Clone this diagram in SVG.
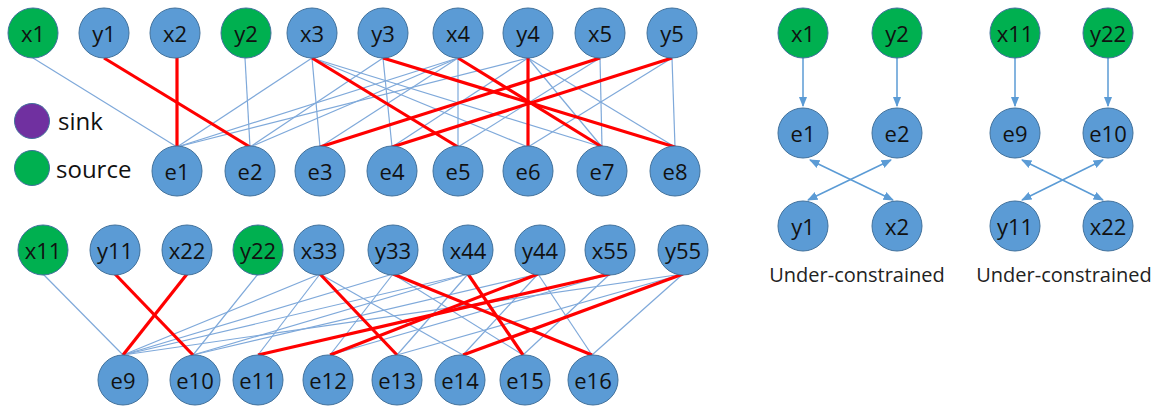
<svg xmlns="http://www.w3.org/2000/svg" width="1170" height="407" viewBox="0 0 1170 407">
<defs>
<style>
.n{fill:#5B9BD5;stroke:#41719C;stroke-width:1}
.s{fill:#00B050;stroke:#41719C;stroke-width:1}
.k{fill:#7030A0;stroke:#41719C;stroke-width:1}
.t{font-family:"Open Sans","Liberation Sans",sans-serif;font-size:22px;fill:#111;text-anchor:middle;dominant-baseline:central}
.lg{font-family:"Open Sans","Liberation Sans",sans-serif;font-size:24px;fill:#111}
.cap{font-family:"Open Sans","Liberation Sans",sans-serif;font-size:20px;fill:#222;text-anchor:middle}
.b{stroke:#7FA9DA;stroke-width:1.2;fill:none}
.r{stroke:#FF0000;stroke-width:3.2;fill:none}
.a{stroke:#5B9BD5;stroke-width:1.5;fill:none}
</style>
<marker id="ah" viewBox="0 0 10 10" refX="9" refY="5" markerWidth="7" markerHeight="7" orient="auto-start-reverse"><path d="M0,1 L10,5 L0,9 Z" fill="#5B9BD5"/></marker>
</defs>

<g id="connectors">
<!-- top graph blue -->
<line class="b" x1="33" y1="58" x2="177" y2="147"/>
<line class="b" x1="312" y1="58" x2="177" y2="147"/>
<line class="b" x1="458" y1="58" x2="177" y2="147"/>
<line class="b" x1="528" y1="58" x2="177" y2="147"/>
<line class="b" x1="245" y1="58" x2="250" y2="147"/>
<line class="b" x1="383" y1="58" x2="250" y2="147"/>
<line class="b" x1="458" y1="58" x2="250" y2="147"/>
<line class="b" x1="312" y1="58" x2="320" y2="147"/>
<line class="b" x1="458" y1="58" x2="320" y2="147"/>
<line class="b" x1="383" y1="58" x2="392" y2="147"/>
<line class="b" x1="528" y1="58" x2="392" y2="147"/>
<line class="b" x1="458" y1="58" x2="458" y2="147"/>
<line class="b" x1="600" y1="58" x2="458" y2="147"/>
<line class="b" x1="312" y1="58" x2="528" y2="147"/>
<line class="b" x1="672" y1="58" x2="528" y2="147"/>
<line class="b" x1="600" y1="58" x2="602" y2="147"/>
<line class="b" x1="528" y1="58" x2="602" y2="147"/>
<line class="b" x1="312" y1="58" x2="602" y2="147"/>
<line class="b" x1="672" y1="58" x2="675" y2="147"/>
<line class="b" x1="528" y1="58" x2="675" y2="147"/>
<!-- top graph red -->
<line class="r" x1="104" y1="58" x2="250" y2="147"/>
<line class="r" x1="177" y1="58" x2="177" y2="147"/>
<line class="r" x1="312" y1="58" x2="458" y2="147"/>
<line class="r" x1="383" y1="58" x2="675" y2="147"/>
<line class="r" x1="458" y1="58" x2="602" y2="147"/>
<line class="r" x1="528" y1="58" x2="528" y2="147"/>
<line class="r" x1="600" y1="58" x2="320" y2="147"/>
<line class="r" x1="672" y1="58" x2="392" y2="147"/>
<!-- bottom graph blue -->
<line class="b" x1="43" y1="274" x2="123" y2="355"/>
<line class="b" x1="258" y1="274" x2="193" y2="355"/>
<line class="b" x1="320" y1="274" x2="123" y2="355"/>
<line class="b" x1="320" y1="274" x2="258" y2="355"/>
<line class="b" x1="320" y1="274" x2="463" y2="355"/>
<line class="b" x1="393" y1="274" x2="123" y2="355"/>
<line class="b" x1="393" y1="274" x2="330" y2="355"/>
<line class="b" x1="393" y1="274" x2="523" y2="355"/>
<line class="b" x1="468" y1="274" x2="123" y2="355"/>
<line class="b" x1="468" y1="274" x2="193" y2="355"/>
<line class="b" x1="468" y1="274" x2="397" y2="355"/>
<line class="b" x1="538" y1="274" x2="193" y2="355"/>
<line class="b" x1="538" y1="274" x2="463" y2="355"/>
<line class="b" x1="538" y1="274" x2="592" y2="355"/>
<line class="b" x1="610" y1="274" x2="330" y2="355"/>
<line class="b" x1="610" y1="274" x2="523" y2="355"/>
<line class="b" x1="683" y1="274" x2="123" y2="355"/>
<line class="b" x1="683" y1="274" x2="397" y2="355"/>
<line class="b" x1="683" y1="274" x2="592" y2="355"/>
<!-- bottom graph red -->
<line class="r" x1="115" y1="274" x2="193" y2="355"/>
<line class="r" x1="187" y1="274" x2="123" y2="355"/>
<line class="r" x1="320" y1="274" x2="397" y2="355"/>
<line class="r" x1="393" y1="274" x2="592" y2="355"/>
<line class="r" x1="468" y1="274" x2="523" y2="355"/>
<line class="r" x1="538" y1="274" x2="330" y2="355"/>
<line class="r" x1="610" y1="274" x2="258" y2="355"/>
<line class="r" x1="683" y1="274" x2="463" y2="355"/>
<!-- right arrows -->
<line class="a" x1="803" y1="58" x2="803" y2="106" marker-end="url(#ah)"/>
<line class="a" x1="897" y1="58" x2="897" y2="106" marker-end="url(#ah)"/>
<line class="a" x1="1015" y1="58" x2="1015" y2="106" marker-end="url(#ah)"/>
<line class="a" x1="1108" y1="58" x2="1108" y2="106" marker-end="url(#ah)"/>
<line class="a" x1="810" y1="160" x2="893" y2="200" marker-start="url(#ah)" marker-end="url(#ah)"/>
<line class="a" x1="891" y1="160" x2="808" y2="200" marker-start="url(#ah)" marker-end="url(#ah)"/>
<line class="a" x1="1022" y1="160" x2="1103" y2="200" marker-start="url(#ah)" marker-end="url(#ah)"/>
<line class="a" x1="1103" y1="160" x2="1022" y2="200" marker-start="url(#ah)" marker-end="url(#ah)"/>
</g>

<!-- legend -->
<g id="legend-sink"><circle class="k" cx="32" cy="121" r="17.5"/><text class="lg" x="58" y="130">sink</text></g>
<g id="legend-source"><circle class="s" cx="32" cy="168" r="17.5"/><text class="lg" x="56" y="178">source</text></g>

<!-- top graph nodes -->
<g id="t-x1"><circle class="s" cx="33" cy="33" r="25"/><text class="t" x="33" y="33">x1</text></g>
<g id="t-y1"><circle class="n" cx="104" cy="33" r="25"/><text class="t" x="104" y="33">y1</text></g>
<g id="t-x2"><circle class="n" cx="175" cy="33" r="25"/><text class="t" x="175" y="33">x2</text></g>
<g id="t-y2"><circle class="s" cx="246" cy="33" r="25"/><text class="t" x="246" y="33">y2</text></g>
<g id="t-x3"><circle class="n" cx="312" cy="33" r="25"/><text class="t" x="312" y="33">x3</text></g>
<g id="t-y3"><circle class="n" cx="383" cy="33" r="25"/><text class="t" x="383" y="33">y3</text></g>
<g id="t-x4"><circle class="n" cx="458" cy="33" r="25"/><text class="t" x="458" y="33">x4</text></g>
<g id="t-y4"><circle class="n" cx="528" cy="33" r="25"/><text class="t" x="528" y="33">y4</text></g>
<g id="t-x5"><circle class="n" cx="600" cy="33" r="25"/><text class="t" x="600" y="33">x5</text></g>
<g id="t-y5"><circle class="n" cx="672" cy="33" r="25"/><text class="t" x="672" y="33">y5</text></g>
<g id="t-e1"><circle class="n" cx="177" cy="171" r="25"/><text class="t" x="177" y="171">e1</text></g>
<g id="t-e2"><circle class="n" cx="250" cy="171" r="25"/><text class="t" x="250" y="171">e2</text></g>
<g id="t-e3"><circle class="n" cx="320" cy="171" r="25"/><text class="t" x="320" y="171">e3</text></g>
<g id="t-e4"><circle class="n" cx="392" cy="171" r="25"/><text class="t" x="392" y="171">e4</text></g>
<g id="t-e5"><circle class="n" cx="458" cy="171" r="25"/><text class="t" x="458" y="171">e5</text></g>
<g id="t-e6"><circle class="n" cx="528" cy="171" r="25"/><text class="t" x="528" y="171">e6</text></g>
<g id="t-e7"><circle class="n" cx="602" cy="171" r="25"/><text class="t" x="602" y="171">e7</text></g>
<g id="t-e8"><circle class="n" cx="675" cy="171" r="25"/><text class="t" x="675" y="171">e8</text></g>

<!-- bottom graph nodes -->
<g id="b-x11"><circle class="s" cx="43" cy="250" r="25"/><text class="t" x="43" y="250">x11</text></g>
<g id="b-y11"><circle class="n" cx="115" cy="250" r="25"/><text class="t" x="115" y="250">y11</text></g>
<g id="b-x22"><circle class="n" cx="187" cy="250" r="25"/><text class="t" x="187" y="250">x22</text></g>
<g id="b-y22"><circle class="s" cx="258" cy="250" r="25"/><text class="t" x="258" y="250">y22</text></g>
<g id="b-x33"><circle class="n" cx="319" cy="250" r="25"/><text class="t" x="319" y="250">x33</text></g>
<g id="b-y33"><circle class="n" cx="393" cy="250" r="25"/><text class="t" x="393" y="250">y33</text></g>
<g id="b-x44"><circle class="n" cx="468" cy="250" r="25"/><text class="t" x="468" y="250">x44</text></g>
<g id="b-y44"><circle class="n" cx="540" cy="250" r="25"/><text class="t" x="540" y="250">y44</text></g>
<g id="b-x55"><circle class="n" cx="610" cy="250" r="25"/><text class="t" x="610" y="250">x55</text></g>
<g id="b-y55"><circle class="n" cx="683" cy="250" r="25"/><text class="t" x="683" y="250">y55</text></g>
<g id="b-e9"><circle class="n" cx="123" cy="380" r="25"/><text class="t" x="123" y="380">e9</text></g>
<g id="b-e10"><circle class="n" cx="195" cy="380" r="25"/><text class="t" x="195" y="380">e10</text></g>
<g id="b-e11"><circle class="n" cx="258" cy="380" r="25"/><text class="t" x="258" y="380">e11</text></g>
<g id="b-e12"><circle class="n" cx="328" cy="380" r="25"/><text class="t" x="328" y="380">e12</text></g>
<g id="b-e13"><circle class="n" cx="397" cy="380" r="25"/><text class="t" x="397" y="380">e13</text></g>
<g id="b-e14"><circle class="n" cx="460" cy="380" r="25"/><text class="t" x="460" y="380">e14</text></g>
<g id="b-e15"><circle class="n" cx="525" cy="380" r="25"/><text class="t" x="525" y="380">e15</text></g>
<g id="b-e16"><circle class="n" cx="593" cy="380" r="25"/><text class="t" x="593" y="380">e16</text></g>

<!-- right subgraphs -->
<g id="r-x1"><circle class="s" cx="803" cy="33" r="25"/><text class="t" x="803" y="33">x1</text></g>
<g id="r-y2"><circle class="s" cx="897" cy="33" r="25"/><text class="t" x="897" y="33">y2</text></g>
<g id="r-e1"><circle class="n" cx="803" cy="133" r="25"/><text class="t" x="803" y="133">e1</text></g>
<g id="r-e2"><circle class="n" cx="897" cy="133" r="25"/><text class="t" x="897" y="133">e2</text></g>
<g id="r-y1"><circle class="n" cx="803" cy="226" r="25"/><text class="t" x="803" y="226">y1</text></g>
<g id="r-x2"><circle class="n" cx="897" cy="226" r="25"/><text class="t" x="897" y="226">x2</text></g>
<g id="r-x11"><circle class="s" cx="1015" cy="33" r="25"/><text class="t" x="1015" y="33">x11</text></g>
<g id="r-y22"><circle class="s" cx="1108" cy="33" r="25"/><text class="t" x="1108" y="33">y22</text></g>
<g id="r-e9"><circle class="n" cx="1015" cy="133" r="25"/><text class="t" x="1015" y="133">e9</text></g>
<g id="r-e10"><circle class="n" cx="1108" cy="133" r="25"/><text class="t" x="1108" y="133">e10</text></g>
<g id="r-y11"><circle class="n" cx="1015" cy="226" r="25"/><text class="t" x="1015" y="226">y11</text></g>
<g id="r-x22"><circle class="n" cx="1108" cy="226" r="25"/><text class="t" x="1108" y="226">x22</text></g>
<g id="captions">
<text class="cap" x="857" y="282">Under-constrained</text>
<text class="cap" x="1064" y="282">Under-constrained</text>
</g>
</svg>
